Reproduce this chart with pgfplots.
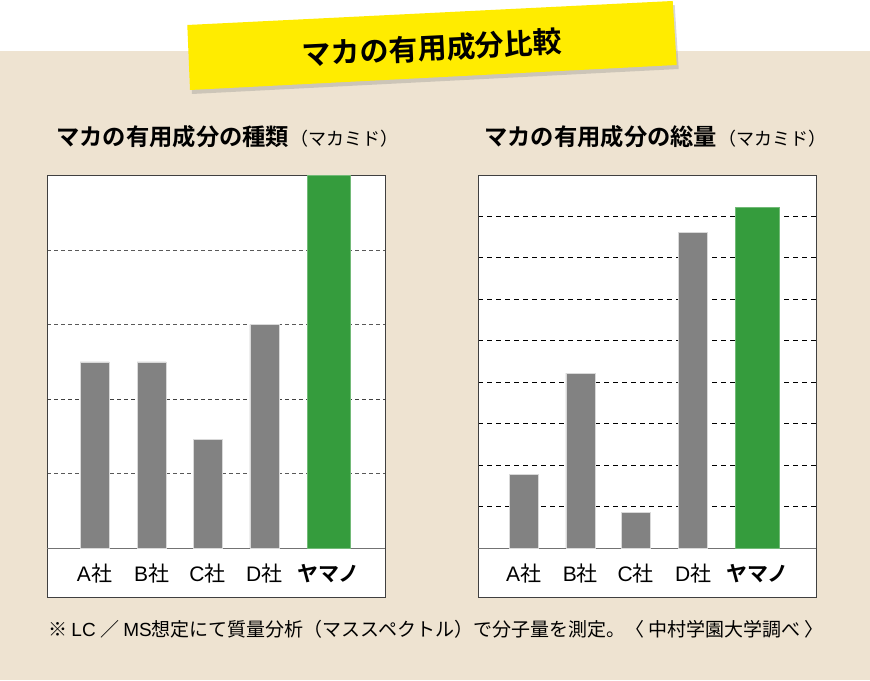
\documentclass[border=0pt]{standalone}
\usepackage{pgfplots}
\pgfplotsset{compat=1.18}
\usepackage{fontspec}
\setmainfont{Noto Sans CJK JP}[BoldFont={Noto Sans CJK JP Bold}]
\newfontfamily\lat{Liberation Sans}
\usetikzlibrary{shadows}

\definecolor{beige}{HTML}{EEE3D1}
\definecolor{banner}{HTML}{FFEC00}
\definecolor{bargray}{HTML}{828282}
\definecolor{bargreen}{HTML}{359C3D}
\definecolor{frame}{HTML}{404040}

\pgfplotsset{
  panel/.style={
    scale only axis, width=338pt, height=422pt, anchor=origin,
    xmin=0, xmax=338,
    axis background/.style={fill=white},
    axis line style={frame, line width=1pt},
    ytick pos=left, yticklabels={}, major tick length=0pt,
    ymajorgrids,
    extra y ticks={0}, extra y tick labels={},
    extra y tick style={grid style={solid, draw=black!55, line width=1.3pt}},
    xticklabel style={anchor=center, yshift=24.5pt, font=\fontsize{21}{21}\selectfont},
  },
  graybar/.style={ybar, bar shift=0pt, bar width=29pt, fill=bargray, draw=black!15, line width=0.6pt},
  greenbar/.style={ybar, bar shift=0pt, bar width=43.5pt, fill=bargreen, draw=bargreen!70!white, line width=0.6pt},
}

\begin{document}
\begin{tikzpicture}[x=1pt, y=1pt]
% background
\fill[beige] (0,0) rectangle (870,680);
\fill[white] (0,629) rectangle (870,680);

% banner
\fill[banner, drop shadow={opacity=0.3, shadow xshift=2pt, shadow yshift=-4pt}]
  (187.3,655) -- (672.7,679) -- (676.7,615) -- (190,590) -- cycle;
\node[rotate=2.8, font=\bfseries\fontsize{29}{29}\selectfont] at (432,632) {マカの有用成分比較};

% subtitles
\node[anchor=base west, inner sep=0pt] at (56,534)
  {{\bfseries\fontsize{23.3}{23}\selectfont マカの有用成分の種類}\,{\fontsize{18}{18}\selectfont （マカミド）}};
\node[anchor=base west, inner sep=0pt] at (484,534)
  {{\bfseries\fontsize{23.3}{23}\selectfont マカの有用成分の総量}\,{\fontsize{18}{18}\selectfont （マカミド）}};

% left panel: types
\begin{axis}[panel, at={(47pt,131.7pt)},
  ymin=-0.663, ymax=5, ytick={1,2,3,4},
  grid style={dash pattern=on 4pt off 3pt, draw=black!65, line width=0.8pt},
  xtick={47.5,104.7,160.5,217.3,281.7},
  xticklabels={{\lat A}社,{\lat B}社,{\lat C}社,{\lat D}社,{\bfseries ヤマノ}}]
\draw[black!75, dash pattern=on 4pt off 3pt, line width=1.3pt] (axis cs:0,2) -- (axis cs:338,2);
\addplot[graybar] coordinates {(47.5,2.5) (104.7,2.5) (160.5,1.46) (217.3,3.0)};
\addplot[greenbar] coordinates {(281.7,5)};
\end{axis}

% right panel: amount
\begin{axis}[panel, at={(478.3pt,131.7pt)},
  ymin=-1.19, ymax=8.98, ytick={1,...,8},
  grid style={dash pattern=on 5pt off 4pt, draw=black, line width=0.8pt},
  xtick={45.2,102,157.5,214.9,279},
  xticklabels={{\lat A}社,{\lat B}社,{\lat C}社,{\lat D}社,{\bfseries ヤマノ}}]
\addplot[graybar] coordinates {(45.2,1.78) (102,4.22) (157.5,0.87) (214.9,7.62)};
\addplot[greenbar] coordinates {(279,8.22)};
\end{axis}

% footnote
\node[anchor=base west, inner sep=0pt, font=\fontsize{19}{19}\selectfont] at (48,43)
  {※ {\lat LC} ／ {\lat MS}想定にて質量分析（マススペクトル）で分子量を測定。〈 中村学園大学調べ 〉};
\end{tikzpicture}
\end{document}
